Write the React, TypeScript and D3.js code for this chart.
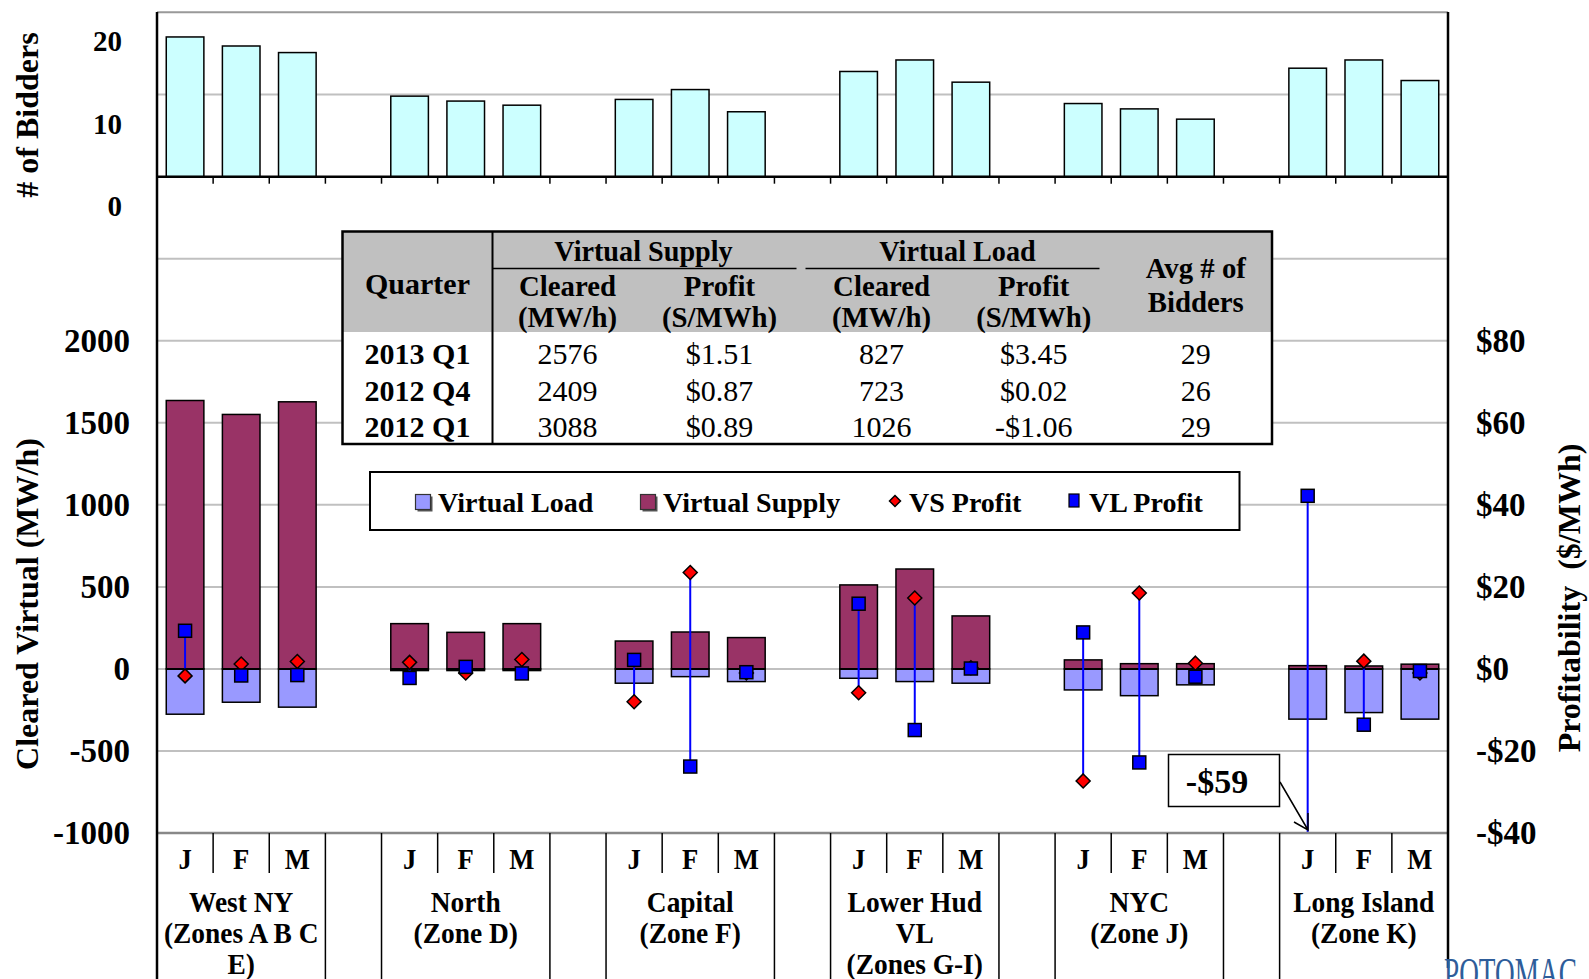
import React, { useEffect } from 'react';
import * as d3 from 'd3';

// ---------- data ----------
const groupLabelLines: string[][] = [
  ['West NY', '(Zones A B C', 'E)'],
  ['North', '(Zone D)'],
  ['Capital', '(Zone F)'],
  ['Lower Hud', 'VL', '(Zones G-I)'],
  ['NYC', '(Zone J)'],
  ['Long Island', '(Zone K)'],
];
const months = ['J', 'F', 'M'];

// avg # of bidders per zone-month
const bidders = [17.0, 15.9, 15.1, 9.8, 9.2, 8.7, 9.4, 10.6, 7.9, 12.8, 14.2, 11.5, 8.9, 8.25, 7.0, 13.2, 14.2, 11.7];
// cleared virtual supply (MW/h)
const vsCleared = [1636, 1551, 1628, 276, 223, 276, 170, 225, 191, 512, 609, 323, 55, 32, 32, 20, 18, 29];
// cleared virtual load (MW/h, drawn negative)
const vlCleared = [-276, -203, -233, -10, -10, -10, -87, -47, -77, -57, -77, -87, -128, -163, -97, -306, -266, -306];
// profits ($/MWh)
const vsProfit = [-1.7, 1.2, 1.8, 1.6, -1.0, 2.3, -8.0, 23.5, -1.0, -5.8, 17.3, 0.3, -27.3, 18.5, 1.4, -59, 1.9, -1.0];
const vlProfit = [9.3, -1.6, -1.5, -2.2, 0.5, -1.1, 2.2, -23.8, -0.8, 15.9, -14.9, 0.1, 8.9, -22.8, -1.9, 42.2, -13.6, -0.5];

const topTicks = [0, 10, 20];
const mwTicks = [-1000, -500, 0, 500, 1000, 1500, 2000];
const mwGrid = [-500, 0, 500, 1000, 1500, 2000, 2500];
const profitTicks = [-40, -20, 0, 20, 40, 60, 80];

const tableQuarters = ['2013 Q1', '2012 Q4', '2012 Q1'];
const tblVsCleared = ['2576', '2409', '3088'];
const tblVsProfit = ['$1.51', '$0.87', '$0.89'];
const tblVlCleared = ['827', '723', '1026'];
const tblVlProfit = ['$3.45', '$0.02', '-$1.06'];
const tblBidders = ['29', '26', '29'];

const calloutText = '-$59';

// ---------- layout ----------
const W = 1589, H = 979;
const L = 157, R = 1448;
const NSLOT = 23;
const FONT = '"Liberation Serif", "Times New Roman", serif';

const slotOf = (i: number) => Math.floor(i / 3) * 4 + (i % 3);

const xBand = d3.scaleBand<number>().domain(d3.range(NSLOT)).range([L, R]).paddingInner(0.33).paddingOuter(0.165);
const xEdge = d3.scaleLinear().domain([0, NSLOT]).range([L, R]);
const yTop = d3.scaleLinear().domain([0, 20]).range([176.7, 12.3]);
const yMW = d3.scaleLinear().domain([-1000, 3000]).range([833, 176.7]);
const yPr = d3.scaleLinear().domain([-40, 120]).range([833, 176.7]);

const C_VS = '#993366';
const C_VL = '#9999FF';
const C_TOP = '#CCFFFF';
const GRID = '#C0C0C0';

function Diamond({ cx, cy, r = 7 }: { cx: number; cy: number; r?: number }) {
  return (
    <path
      d={`M${cx},${cy - r}L${cx + r},${cy}L${cx},${cy + r}L${cx - r},${cy}Z`}
      fill="#FF0000"
      stroke="#000"
      strokeWidth={1.5}
    />
  );
}
function Square({ cx, cy, s = 13 }: { cx: number; cy: number; s?: number }) {
  return <rect x={cx - s / 2} y={cy - s / 2} width={s} height={s} fill="#0000FF" stroke="#000" strokeWidth={1.5} />;
}

function CText({ x, y, children, size = 30, sx = 0.92, anchor = 'middle', weight = 'bold' }: any) {
  return (
    <text
      transform={`translate(${x},${y}) scale(${sx},1)`}
      textAnchor={anchor}
      fontFamily={FONT}
      fontWeight={weight}
      fontSize={size}
      fill="#000"
    >
      {children}
    </text>
  );
}

export default function App() {
  useEffect(() => {
    document.body.style.margin = '0';
  }, []);

  const bw = xBand.bandwidth();
  const idx = d3.range(bidders.length);

  // table geometry
  const tX0 = 342.5, tX1 = 1272, tY0 = 231.5, tY1 = 444, tHead = 332;
  const colX = [417.5, 567.5, 719.5, 881.6, 1033.7, 1195.8];
  const rowY = [364, 400.5, 437];

  return (
    <svg width={W} height={H} style={{ position: 'absolute', left: 0, top: 0, background: '#fff' }}>
      <rect x={0} y={0} width={W} height={H} fill="#fff" />

      {/* ---------- top panel ---------- */}
      <line x1={L} x2={R} y1={yTop(20)} y2={yTop(20)} stroke="#999" strokeWidth={2} />
      <line x1={L} x2={R} y1={yTop(10)} y2={yTop(10)} stroke={GRID} strokeWidth={2} />
      {idx.map((i) => {
        const x = xBand(slotOf(i))!;
        return (
          <rect key={'tb' + i} x={x} y={yTop(bidders[i])} width={bw} height={yTop(0) - yTop(bidders[i])}
            fill={C_TOP} stroke="#000" strokeWidth={1.5} />
        );
      })}
      <line x1={L} x2={R} y1={yTop(0)} y2={yTop(0)} stroke="#000" strokeWidth={2.5} />
      {d3.range(1, NSLOT + 1).map((k) => (
        <line key={'tt' + k} x1={xEdge(k)} x2={xEdge(k)} y1={yTop(0)} y2={yTop(0) + 7} stroke="#000" strokeWidth={1.5} />
      ))}
      {topTicks.map((t) => (
        <text key={'tl' + t} x={122} y={yTop(t) + 39} textAnchor="end" fontFamily={FONT} fontWeight="bold" fontSize={29}>
          {t}
        </text>
      ))}
      <text transform={`translate(38,115) rotate(-90)`} textAnchor="middle" fontFamily={FONT} fontWeight="bold" fontSize={32}>
        # of Bidders
      </text>

      {/* ---------- bottom panel ---------- */}
      {mwGrid.map((t) => (
        <line key={'g' + t} x1={L} x2={R} y1={yMW(t)} y2={yMW(t)} stroke={GRID} strokeWidth={2} />
      ))}
      {idx.map((i) => {
        const x = xBand(slotOf(i))!;
        return (
          <g key={'b' + i}>
            <rect x={x} y={yMW(vsCleared[i])} width={bw} height={yMW(0) - yMW(vsCleared[i])} fill={C_VS} stroke="#000" strokeWidth={1.5} />
            <rect x={x} y={yMW(0)} width={bw} height={yMW(vlCleared[i]) - yMW(0)} fill={C_VL} stroke="#000" strokeWidth={1.5} />
            <line x1={x} x2={x + bw} y1={yMW(0)} y2={yMW(0)} stroke="#000" strokeWidth={2} />
          </g>
        );
      })}
      {/* high-low lines */}
      {idx.map((i) => {
        const cx = xBand(slotOf(i))! + bw / 2;
        const clamp = (v: number) => Math.max(-40, Math.min(120, v));
        return (
          <line key={'hl' + i} x1={cx} x2={cx} y1={yPr(clamp(vsProfit[i]))} y2={yPr(clamp(vlProfit[i]))} stroke="#0000FF" strokeWidth={2} />
        );
      })}
      {idx.map((i) => {
        const cx = xBand(slotOf(i))! + bw / 2;
        return vsProfit[i] >= -40 ? <Diamond key={'d' + i} cx={cx} cy={yPr(vsProfit[i])} /> : null;
      })}
      {idx.map((i) => {
        const cx = xBand(slotOf(i))! + bw / 2;
        return vlProfit[i] >= -40 ? <Square key={'s' + i} cx={cx} cy={yPr(vlProfit[i])} /> : null;
      })}

      {/* bottom axis */}
      <line x1={L} x2={R} y1={yMW(-1000)} y2={yMW(-1000)} stroke="#888" strokeWidth={2.5} />
      {d3.range(1, NSLOT).map((k) => {
        const inGroupPos = k % 4;
        const short = inGroupPos === 1 || inGroupPos === 2;
        return (
          <line key={'ct' + k} x1={xEdge(k)} x2={xEdge(k)} y1={yMW(-1000)} y2={short ? 873 : H} stroke="#000" strokeWidth={1.5} />
        );
      })}
      {idx.map((i) => (
        <CText key={'m' + i} x={xBand(slotOf(i))! + bw / 2} y={869} size={29}>
          {months[i % 3]}
        </CText>
      ))}
      {groupLabelLines.map((lines, g) => {
        const cx = (xEdge(g * 4) + xEdge(g * 4 + 3)) / 2;
        return lines.map((ln, j) => (
          <CText key={'gl' + g + '_' + j} x={cx} y={912 + j * 31} size={29.5} sx={0.93}>
            {ln}
          </CText>
        ));
      })}

      {/* axes lines */}
      <line x1={L} x2={L} y1={12} y2={H} stroke="#000" strokeWidth={2.5} />
      <line x1={R} x2={R} y1={12} y2={968} stroke="#000" strokeWidth={2.5} />

      {/* left ticks */}
      {mwTicks.map((t) => (
        <text key={'ml' + t} x={130} y={yMW(t) + 11} textAnchor="end" fontFamily={FONT} fontWeight="bold" fontSize={33}>
          {t}
        </text>
      ))}
      {profitTicks.map((t) => (
        <text key={'pl' + t} x={1476} y={yPr(t) + 11} textAnchor="start" fontFamily={FONT} fontWeight="bold" fontSize={33}>
          {t < 0 ? `-$${-t}` : `$${t}`}
        </text>
      ))}
      <text transform={`translate(38,604) rotate(-90)`} textAnchor="middle" fontFamily={FONT} fontWeight="bold" fontSize={32}>
        Cleared Virtual (MW/h)
      </text>
      <text transform={`translate(1580,598) rotate(-90)`} textAnchor="middle" fontFamily={FONT} fontWeight="bold" fontSize={32} style={{ whiteSpace: 'pre' }}>
        {'Profitability  ($/MWh)'}
      </text>

      {/* ---------- table ---------- */}
      <rect x={tX0} y={tY0} width={tX1 - tX0} height={tY1 - tY0} fill="#fff" />
      <rect x={tX0} y={tY0} width={tX1 - tX0} height={tHead - tY0} fill="#C0C0C0" />
      <rect x={tX0} y={tY0} width={tX1 - tX0} height={tY1 - tY0} fill="none" stroke="#000" strokeWidth={2.5} />
      <line x1={492.5} x2={492.5} y1={tY0} y2={tY1} stroke="#000" strokeWidth={2} />
      <line x1={492.5} x2={796.5} y1={268.5} y2={268.5} stroke="#000" strokeWidth={1.5} />
      <line x1={805.5} x2={1099.5} y1={268.5} y2={268.5} stroke="#000" strokeWidth={1.5} />
      <CText x={643.5} y={261} size={30} sx={0.94}>Virtual Supply</CText>
      <CText x={957.5} y={261} size={30} sx={0.94}>Virtual Load</CText>
      <CText x={colX[0]} y={294} size={30} sx={1}>Quarter</CText>
      <CText x={colX[1]} y={296} size={30} sx={0.96}>Cleared</CText>
      <CText x={colX[1]} y={327} size={30} sx={0.96}>(MW/h)</CText>
      <CText x={colX[2]} y={296} size={30} sx={0.96}>Profit</CText>
      <CText x={colX[2]} y={327} size={30} sx={0.96}>(S/MWh)</CText>
      <CText x={colX[3]} y={296} size={30} sx={0.96}>Cleared</CText>
      <CText x={colX[3]} y={327} size={30} sx={0.96}>(MW/h)</CText>
      <CText x={colX[4]} y={296} size={30} sx={0.96}>Profit</CText>
      <CText x={colX[4]} y={327} size={30} sx={0.96}>(S/MWh)</CText>
      <CText x={colX[5]} y={277.5} size={30} sx={0.96}>Avg # of</CText>
      <CText x={colX[5]} y={312} size={30} sx={0.96}>Bidders</CText>
      {tableQuarters.map((q, r) => (
        <g key={'row' + r}>
          <CText x={colX[0]} y={rowY[r]} size={30} sx={1}>{q}</CText>
          <CText x={colX[1]} y={rowY[r]} size={30} sx={1} weight="normal">{tblVsCleared[r]}</CText>
          <CText x={colX[2]} y={rowY[r]} size={30} sx={1} weight="normal">{tblVsProfit[r]}</CText>
          <CText x={colX[3]} y={rowY[r]} size={30} sx={1} weight="normal">{tblVlCleared[r]}</CText>
          <CText x={colX[4]} y={rowY[r]} size={30} sx={1} weight="normal">{tblVlProfit[r]}</CText>
          <CText x={colX[5]} y={rowY[r]} size={30} sx={1} weight="normal">{tblBidders[r]}</CText>
        </g>
      ))}

      {/* ---------- legend ---------- */}
      <rect x={370} y={472} width={869.5} height={58} fill="#fff" stroke="#000" strokeWidth={2} />
      <rect x={417.5} y={496.5} width={15} height={15} fill="#555" />
      <rect x={415.5} y={494.5} width={15} height={15} fill={C_VL} stroke="#333" strokeWidth={1.2} />
      <text x={438} y={512} fontFamily={FONT} fontWeight="bold" fontSize={28}>Virtual Load</text>
      <rect x={642.5} y={496.5} width={15} height={15} fill="#555" />
      <rect x={640.5} y={494.5} width={15} height={15} fill={C_VS} stroke="#333" strokeWidth={1.2} />
      <text x={663} y={512} fontFamily={FONT} fontWeight="bold" fontSize={28}>Virtual Supply</text>
      <Diamond cx={895} cy={501} r={5.5} />
      <text x={909} y={512} fontFamily={FONT} fontWeight="bold" fontSize={28}>VS Profit</text>
      <rect x={1069} y={494} width={10} height={13} fill="#0000FF" stroke="#000" strokeWidth={1.2} />
      <text x={1089} y={512} fontFamily={FONT} fontWeight="bold" fontSize={28}>VL Profit</text>

      {/* ---------- callout ---------- */}
      <rect x={1168.5} y={754.5} width={111} height={52} fill="#fff" stroke="#000" strokeWidth={1.5} />
      <text x={1217} y={793} textAnchor="middle" fontFamily={FONT} fontWeight="bold" fontSize={34}>{calloutText}</text>
      <path d="M1280,782L1308,830M1294,822L1308,830L1308,813" fill="none" stroke="#000" strokeWidth={1.5} />

      {/* logo */}
      <text transform="translate(1444,988) scale(0.62,1)" fontFamily={FONT} fontSize={44} fill="#2E5D9A">
        POTOMAC
      </text>
    </svg>
  );
}
